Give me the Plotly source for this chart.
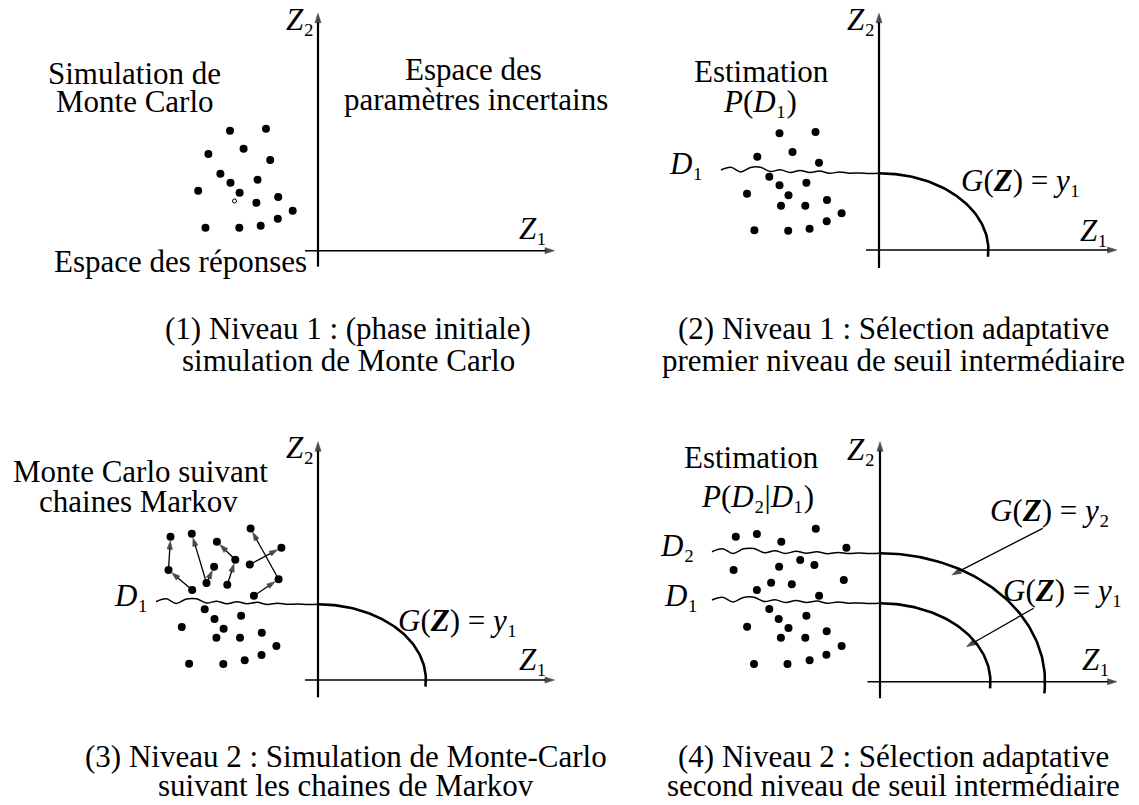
import numpy as np
import plotly.graph_objects as go

W, H = 1139, 805
FONT = "Liberation Serif"
FS = 31

# ---------------- axes of the four panels ----------------
AXIS_X = [318, 879, 318, 880]          # position of the vertical axis
AXIS_Y = [250.7, 250, 680, 681.7]      # position of the horizontal axis
XAXIS_LEFT = [305, 866, 305, 867.5]
XAXIS_RIGHT = [554.5, 1117, 554.5, 1117]
YAXIS_TOP = [13.3, 13.3, 441.7, 441.7]
YAXIS_BOTTOM = [266.7, 268, 697.3, 698.3]

# ---------------- Monte Carlo samples ----------------
P1_X = [230, 266, 208.4, 243.6, 270.2, 220.4, 230.5, 257.5, 198.2, 239.6,
        256.4, 278.2, 292.7, 277.8, 205.5, 239.3, 260.7]
P1_Y = [130.7, 128.7, 154, 148.7, 160, 173.7, 182.7, 179.7, 190.7, 192.7,
        202.7, 197, 210.7, 218.7, 227.7, 227.7, 225.7]
P1_OPEN_X = [234.5]
P1_OPEN_Y = [201]

P2_X = [779.5, 815.5, 757.3, 792.5, 819, 769.3, 779.5, 806.4, 747, 788.5,
        781, 805.3, 827, 841.6, 826.7, 754.4, 788.2, 809.6]
P2_Y = [133.3, 132, 156.7, 152, 162.7, 176.7, 185.3, 182.7, 193.7, 195.3,
        205.7, 205.7, 200, 213.3, 221.3, 230.3, 230.7, 228.7]

P3_LOW_X = [204.7, 214.5, 241.1, 181.8, 223.6, 216.4, 240, 261.8, 276.4,
            261.5, 189.1, 223.3, 244.7]
P3_LOW_Y = [609.3, 619, 615.7, 627, 628.7, 637.7, 637.7, 632.7, 646,
            655, 663.7, 664, 660.3]
# Markov chain states (upper region) and moves
P3_UP_X = [170.5, 168.5, 192.2, 191.8, 206.5, 214.1, 216.9, 235.3, 227.3, 250.6,
           281.4, 249.8, 278.6, 253.9]
P3_UP_Y = [536.7, 570, 590, 533.8, 583, 566.7, 541.8, 559.7, 584.8, 528.6,
           547.7, 564.5, 579.3, 595.8]
CHAIN_FROM = [2, 1, 4, 4, 8, 7, 12, 11, 13]
CHAIN_TO = [1, 0, 3, 5, 7, 6, 9, 10, 12]

P4_X = [735.8, 756.9, 781.3, 815.8, 846.4, 733.6, 779.1, 800.2, 814.4, 843.8,
        756.9, 771.1, 791.8, 819.1,
        769.3, 778.7, 806.4, 747.1, 788.5, 780.9, 805.3, 826.7, 841.6, 826.4,
        754, 787.5, 809.6]
P4_Y = [536.7, 534, 541.7, 528.7, 547.7, 570, 566.7, 560, 565, 580,
        590, 582.7, 584.3, 595.7,
        609, 619, 615.7, 626.7, 628, 637.7, 637.7, 631.3, 646, 654.7,
        664, 664, 660.3]

# ---------------- thresholds D (wavy lines) ----------------
WAVE_X0 = [721, 156, 712, 712]
WAVE_X1 = [879, 318, 880, 880]
WAVE_Y0 = [170, 601.7, 551.7, 600]
WAVE_Y1 = [173.3, 604.3, 553.3, 603.3]
WAVE_DY = [0, -3, 1.5, -3.2, -3.5, 0.5, -1.5, 1, -1.2, 0.6, -1, 1, -0.5, 0.5, 0, 0.4, 0]

# ---------------- limit-state arcs G(Z)=y ----------------
ARC_CX = [879, 318, 880, 880]
ARC_CY = [250, 680, 681.7, 681.7]
ARC_RX = [109.4, 107.9, 165, 110.4]
ARC_RY = [76.7, 75.7, 128.4, 78.4]
ARC_END_DEG = [-5, -5, -5.2, -4.8]

# pointers from the G(Z)=y labels to the arcs (panel 4)
PTR_TAIL_X = [1042.7, 1033.6]
PTR_TAIL_Y = [528.3, 608.3]
PTR_HEAD_X = [951.8, 966.4]
PTR_HEAD_Y = [575, 646.7]

fig = go.Figure()

def add_line(xs, ys, width, shape="linear"):
    fig.add_trace(go.Scatter(x=xs, y=ys, mode="lines",
                             line=dict(color="black", width=width, shape=shape),
                             hoverinfo="skip"))

def arrow(tx, ty, hx, hy, width, size, standoff=0):
    fig.add_trace(go.Scatter(
        x=[tx, hx], y=[ty, hy], mode="lines+markers",
        line=dict(color="black", width=width),
        marker=dict(symbol=["circle", "arrow"], size=[0, size],
                    angleref="previous", standoff=[0, standoff],
                    color="black", line=dict(width=0.5, color="black")),
        hoverinfo="skip"))

# waves
for x0, x1, y0, y1 in zip(WAVE_X0, WAVE_X1, WAVE_Y0, WAVE_Y1):
    n = len(WAVE_DY)
    xs = [x0 + (x1 - x0) * i / (n - 1) for i in range(n)]
    ys = [y0 + (y1 - y0) * i / (n - 1) + WAVE_DY[i] for i in range(n)]
    add_line(xs, ys, 1.5, "spline")

# arcs
for cx, cy, rx, ry, e in zip(ARC_CX, ARC_CY, ARC_RX, ARC_RY, ARC_END_DEG):
    t = np.radians(np.linspace(90, e, 80))
    add_line(cx + rx * np.cos(t), cy - ry * np.sin(t), 2.6)

# axes with arrow heads
for i in range(4):
    arrow(AXIS_X[i], YAXIS_BOTTOM[i], AXIS_X[i], YAXIS_TOP[i], 2.2, 10)
    arrow(XAXIS_LEFT[i], AXIS_Y[i], XAXIS_RIGHT[i], AXIS_Y[i], 1.4, 10)

# Markov chain moves
for a, b in zip(CHAIN_FROM, CHAIN_TO):
    arrow(P3_UP_X[a], P3_UP_Y[a], P3_UP_X[b], P3_UP_Y[b], 1.3, 9, standoff=4)

for tx, ty, hx, hy in zip(PTR_TAIL_X, PTR_TAIL_Y, PTR_HEAD_X, PTR_HEAD_Y):
    arrow(tx, ty, hx, hy, 1.3, 10)

# dots
for xs, ys in [(P1_X, P1_Y), (P2_X, P2_Y), (P3_LOW_X, P3_LOW_Y),
               (P3_UP_X, P3_UP_Y), (P4_X, P4_Y)]:
    fig.add_trace(go.Scatter(x=xs, y=ys, mode="markers",
                             marker=dict(color="black", size=8, line=dict(width=0)),
                             hoverinfo="skip"))
fig.add_trace(go.Scatter(x=P1_OPEN_X, y=P1_OPEN_Y, mode="markers",
                         marker=dict(color="black", size=4, symbol="circle-open",
                                     line=dict(width=1)),
                         hoverinfo="skip"))

ann = []

def label(x, y, text, size=FS, anchor="center", yanchor="middle"):
    ann.append(dict(x=x, y=y, xref="x", yref="y", text=text, showarrow=False,
                    xanchor=anchor, yanchor=yanchor,
                    font=dict(family=FONT, size=size, color="black")))

Z1 = "<i>Z</i>₁"
Z2 = "<i>Z</i>₂"
D1 = "<i>D</i>₁"
D2 = "<i>D</i>₂"
GZ = "<i>G</i>(<b><i>Z</i></b>) = <i>y</i>{}"

# panel 1
label(300, 0, Z2, yanchor="top")
label(533, 228, Z1)
label(134.5, 73, "Simulation de")
label(134.5, 101, "Monte Carlo")
label(473.5, 69, "Espace des")
label(476, 99, "paramètres incertains")
label(180, 261, "Espace des réponses")
# panel 2
label(861, 0, Z2, yanchor="top")
label(1093.6, 230, Z1)
label(761.6, 71, "Estimation")
label(760, 101, "<i>P</i>(" + D1 + ")")
label(685.6, 163, D1)
label(1021, 180, GZ.format("₁"))
# panel 3
label(300, 447, Z2)
label(533, 659, Z1)
label(140, 471, "Monte Carlo suivant")
label(138, 501, "chaines Markov")
label(131, 595, D1)
label(458, 620, GZ.format("₁"))
# panel 4
label(861, 449, Z2)
label(1095.5, 659, Z1)
label(751.8, 457.5, "Estimation")
label(757, 496, "<i>P</i>(" + D2 + "|" + D1 + ")")
label(677, 545, D2)
label(681, 595, D1)
label(1050, 510, GZ.format("₂"))
label(1062.7, 590, GZ.format("₁"))

# captions
label(348, 328.5, "(1) Niveau 1 : (phase initiale)")
label(348, 360.5, "simulation de Monte Carlo")
label(893, 328.5, "(2) Niveau 1 : Sélection adaptative")
label(893, 360.5, "premier niveau de seuil intermédiaire")
label(346, 756, "(3) Niveau 2 : Simulation de Monte-Carlo")
label(346, 785, "suivant les chaines de Markov")
label(893, 756, "(4) Niveau 2 : Sélection adaptative")
label(893, 785, "second niveau de seuil intermédiaire")

fig.update_layout(
    width=W, height=H, margin=dict(l=0, r=0, t=0, b=0),
    paper_bgcolor="white", plot_bgcolor="white", showlegend=False,
    xaxis=dict(range=[0, W], visible=False, fixedrange=True),
    yaxis=dict(range=[H, 0], visible=False, fixedrange=True),
    annotations=ann,
)
fig.write_html("out.html", config={"displayModeBar": False},
               post_script="document.body.style.margin='0';document.body.style.overflow='hidden';")
